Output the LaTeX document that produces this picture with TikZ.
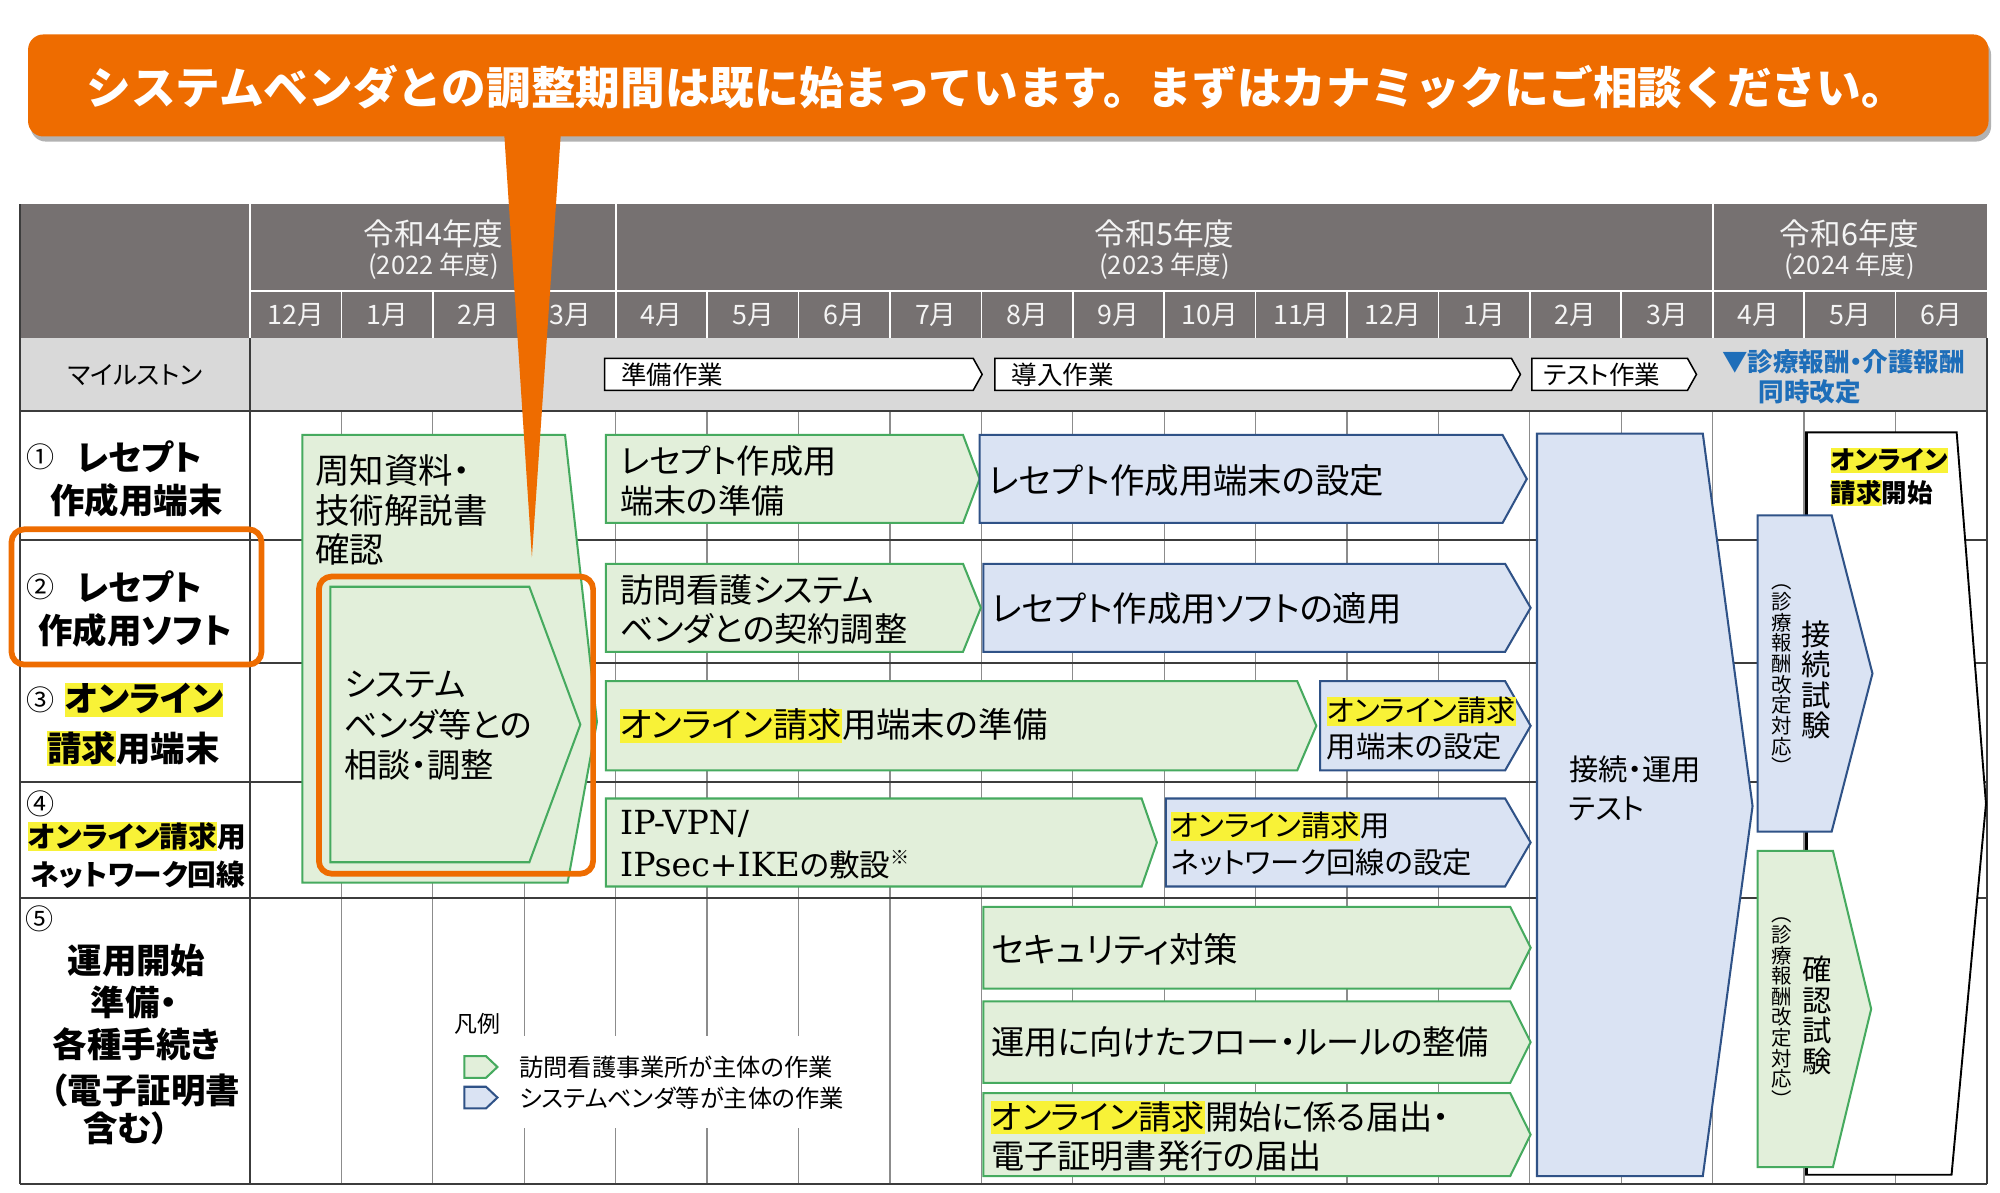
\documentclass[tikz,border=0pt]{standalone}
\usepackage{fontspec}
\setmainfont{Noto Sans CJK JP}[RawFeature=+palt]
\newfontfamily\bannerfont{Noto Sans CJK JP}
\newfontfamily\latserif{DejaVu Serif}
\usetikzlibrary{shadows}
\definecolor{orng}{RGB}{238,108,0}
\definecolor{hdr}{RGB}{118,113,113}
\definecolor{hdrtxt}{RGB}{244,244,244}
\definecolor{msg}{RGB}{217,217,217}
\definecolor{gridc}{RGB}{140,140,140}
\definecolor{rowc}{RGB}{60,60,60}
\definecolor{gfill}{RGB}{226,239,218}
\definecolor{gline}{RGB}{70,170,95}
\definecolor{bfill}{RGB}{218,227,243}
\definecolor{bline}{RGB}{47,82,135}
\definecolor{hly}{RGB}{248,242,55}
\definecolor{mblue}{RGB}{30,110,185}
\newcommand\hlt[1]{{\setlength{\fboxsep}{0pt}\colorbox{hly}{\rule[-0.15em]{0pt}{0.98em}#1}}}
\newcommand\fsz[2]{\fontsize{#1}{#2}\selectfont}
\newcommand\chevshape[6]{\draw[#1] (#2,#3) -- (#4,#3) -- (#5,{(#3+#6)/2}) -- (#4,#6) -- (#2,#6) -- cycle;}
\begin{document}
\begin{tikzpicture}[x=1pt,y=-1pt,
  greenbox/.style={fill=gfill,draw=gline,line width=1.6pt},
  bluebox/.style={fill=bfill,draw=bline,line width=1.6pt},
  msbox/.style={fill=white,draw=black,line width=1.2pt},
  tl/.style={inner sep=0pt,anchor=west,align=left,text=black},
  tc/.style={inner sep=0pt,anchor=center,align=center,text=black},
  hdt/.style={inner sep=0pt,anchor=center,text=hdrtxt},
]
\useasboundingbox (0,0) rectangle (1568,935);
\fill[white] (0,0) rectangle (1568,935);

% ---------- header ----------
\fill[hdr] (16,160) rectangle (1558,265);
\draw[white,line width=1.4pt] (196,160) -- (196,265);
\draw[white,line width=1.4pt] (196,228) -- (1558,228);
\draw[white,line width=1.4pt] (483,160) -- (483,265);
\draw[white,line width=1.4pt] (1343,160) -- (1343,265);
\foreach \k in {1,...,18} \draw[white,line width=1.2pt] ({196+71.67*\k},228) -- ({196+71.67*\k},265);
\foreach \m [count=\i from 0] in {12,1,2,3,4,5,6,7,8,9,10,11,12,1,2,3,4,5,6}
  \node[hdt,font=\fsz{21}{21}] (mon\i) at ({232+71.67*\i},247) {\m 月};
\node[hdt,font=\fsz{24}{24}] (y4) at (340,183) {令和4年度};
\node[hdt,font=\fsz{20}{20}] (y4b) at (340,209) {(2022 年度)};
\node[hdt,font=\fsz{24}{24}] (y5) at (913,183) {令和5年度};
\node[hdt,font=\fsz{20}{20}] (y5b) at (913,209) {(2023 年度)};
\node[hdt,font=\fsz{24}{24}] (y6) at (1450,183) {令和6年度};
\node[hdt,font=\fsz{20}{20}] (y6b) at (1450,209) {(2024 年度)};

% ---------- milestone row ----------
\fill[msg] (16,265) rectangle (1558,322);
\node[tc,font=\fsz{20}{20}] (ms) at (106,294) {マイルストン};
\draw[msbox] (474,281) -- (763,281) -- (770,293.5) -- (763,306) -- (474,306) -- cycle;
\node[tl,font=\fsz{20}{20}] (ms1) at (487,293.5) {準備作業};
\draw[msbox] (780,281) -- (1185,281) -- (1192,293.5) -- (1185,306) -- (780,306) -- cycle;
\node[tl,font=\fsz{20}{20}] (ms2) at (793,293.5) {導入作業};
\draw[msbox] (1201,281) -- (1323,281) -- (1330,293.5) -- (1323,306) -- (1201,306) -- cycle;
\node[tl,font=\fsz{20}{20}] (ms3) at (1210,293.5) {テスト作業};
\node[tl,font=\bfseries\fsz{20}{20},text=mblue] (kai1) at (1350,284) {▼診療報酬・介護報酬};
\node[tc,font=\bfseries\fsz{20}{20},text=mblue] (kai2) at (1419,307) {同時改定};

% ---------- body grid ----------
\foreach \k in {1,...,18} \draw[gridc,line width=1pt] ({196+71.67*\k},322) -- ({196+71.67*\k},928);
\foreach \yy in {322,423,520,613,704} \draw[rowc,line width=1.6pt] (16,\yy) -- (1558,\yy);
\draw[rowc,line width=1.6pt] (16,928) -- (1558,928);
\draw[rowc,line width=1.6pt] (16,160) -- (16,928);
\draw[rowc,line width=1.6pt] (1558,265) -- (1558,928);
\draw[rowc,line width=1.6pt] (196,265) -- (196,928);

% ---------- row labels ----------
\node[tc,font=\fsz{22}{22}] (c1) at (32,358) {①};
\node[tl,font=\bfseries\fsz{27}{27}] (l1a) at (60,358) {レセプト};
\node[tc,font=\bfseries\fsz{27}{27}] (l1b) at (107,392) {作成用端末};
\node[tc,font=\fsz{22}{22}] (c2) at (32,460) {②};
\node[tl,font=\bfseries\fsz{27}{27}] (l2a) at (60,460) {レセプト};
\node[tc,font=\bfseries\fsz{27}{27}] (l2b) at (106,494) {作成用ソフト};
\node[tc,font=\fsz{22}{22}] (c3) at (32,549) {③};
\node[tl,font=\bfseries\fsz{27}{27}] (l3a) at (51,549) {\hlt{オンライン}};
\node[tl,font=\bfseries\fsz{27}{27}] (l3b) at (37,587) {\hlt{請求}用端末};
\node[tc,font=\fsz{22}{22}] (c4) at (32,630) {④};
\node[tl,font=\bfseries\fsz{22.5}{22.5}] (l4a) at (22,656) {\hlt{オンライン請求}用};
\node[tl,font=\bfseries\fsz{22.5}{22.5}] (l4b) at (24,686) {ネットワーク回線};
\node[tc,font=\fsz{22}{22}] (c5) at (31,720) {⑤};
\node[tc,font=\bfseries\fsz{27}{27}] (l5a) at (107,753) {運用開始};
\node[tc,font=\bfseries\fsz{27}{27}] (l5b) at (105,786) {準備・};
\node[tc,font=\bfseries\fsz{27}{27}] (l5c) at (107,819) {各種手続き};
\node[tc,font=\bfseries\fsz{27}{27}] (l5d) at (114,855) {（電子証明書};
\node[tc,font=\bfseries\fsz{27}{27}] (l5e) at (99,885) {含む）};

% ---------- left big shapes ----------
\draw[greenbox] (237,341) -- (443,341) -- (468,566) -- (445,692) -- (237,692) -- cycle;
\node[tl,font=\fsz{27}{31}] (shuchi) at (247,400) {周知資料・\\技術解説書\\確認};
\chevshape{greenbox}{259}{460}{415}{455}{676}
\node[tl,font=\fsz{26}{32}] (sodan) at (270,569) {システム\\ベンダ等との\\相談・調整};

% ---------- rows 1-4 ----------
\chevshape{greenbox}{475}{341}{755}{768}{410}
\node[tl,font=\fsz{26}{31}] (r1g) at (486,377) {レセプト作成用\\端末の準備};
\chevshape{bluebox}{768}{341}{1178}{1197}{410}
\node[tl,font=\fsz{27}{27}] (r1b) at (775,377) {レセプト作成用端末の設定};
\chevshape{greenbox}{475}{442}{755}{769}{511}
\node[tl,font=\fsz{26}{31}] (r2g) at (486,478) {訪問看護システム\\ベンダとの契約調整};
\chevshape{bluebox}{771}{442}{1180}{1200}{511}
\node[tl,font=\fsz{27}{27}] (r2b) at (777,477) {レセプト作成用ソフトの適用};
\chevshape{greenbox}{475}{534}{1017}{1032}{604}
\node[tl,font=\fsz{27}{27}] (r3g) at (486,569) {\hlt{オンライン請求}用端末の準備};
\chevshape{bluebox}{1035}{534}{1180}{1200}{604}
\node[tl,font=\fsz{23}{28}] (r3b) at (1040,571) {\hlt{オンライン請求}\\用端末の設定};
\chevshape{greenbox}{475}{626}{895}{907}{695}
\node[tl,font=\fsz{24}{33}] (r4g) at (486,662) {{\latserif\fsz{26}{33}IP-VPN/}\\{\latserif\fsz{26}{33}IPsec+IKE}の敷設{\fsz{15}{15}\raisebox{0.6em}{※}}};
\chevshape{bluebox}{914}{626}{1180}{1200}{695}
\node[tl,font=\fsz{23}{29}] (r4b) at (918,662) {\hlt{オンライン請求}用\\ネットワーク回線の設定};

% ---------- row 5 ----------
\chevshape{greenbox}{771}{711}{1184}{1200}{775}
\node[tl,font=\fsz{27}{27}] (r5a) at (777,744) {セキュリティ対策};
\chevshape{greenbox}{771}{785}{1184}{1200}{849}
\node[tl,font=\fsz{26}{26}] (r5b) at (777,817) {運用に向けたフロー・ルールの整備};
\chevshape{greenbox}{771}{857}{1184}{1200}{922}
\node[tl,font=\fsz{26}{31}] (r5c) at (777,891) {\hlt{オンライン請求}開始に係る届出・\\電子証明書発行の届出};

% ---------- right shapes ----------
\draw[bluebox] (1205,340) -- (1335,340) -- (1374,632) -- (1335,922) -- (1205,922) -- cycle;
\node[tl,font=\fsz{23}{30}] (test) at (1230,618) {接続・運用\\テスト};
\draw[black,line width=1.5pt,fill=white] (1416,339) -- (1534,339) -- (1557,630) -- (1530,921) -- (1416,921) -- cycle;
\draw[black,line width=2.4pt] (1416,339) -- (1416,921);
\node[tl,font=\bfseries\fsz{20}{26}] (start) at (1435,374) {\hlt{オンライン}\\\hlt{請求}開始};
\chevshape{bluebox}{1378}{404}{1436}{1468}{652}
\node[tc,font=\fsz{23}{24}] (setsu) at (1424,533) {接\\続\\試\\験};
\node[tc,font=\fsz{16}{16.2}] (kaitei1) at (1397,533) {︵\\診\\療\\報\\酬\\改\\定\\対\\応\\︶};
\chevshape{greenbox}{1378}{667}{1437}{1467}{915}
\node[tc,font=\fsz{23}{24}] (kakunin) at (1425,796) {確\\認\\試\\験};
\node[tc,font=\fsz{16}{16.2}] (kaitei2) at (1397,794) {︵\\診\\療\\報\\酬\\改\\定\\対\\応\\︶};

% ---------- legend ----------
\fill[white] (350,812) rectangle (672,884);
\node[tl,font=\fsz{18}{18}] (hanrei) at (356,803) {凡例};
\chevshape{greenbox}{364}{828}{381}{390}{845}
\chevshape{bluebox}{364}{852}{381}{390}{869}
\node[tl,font=\fsz{19}{19}] (lg1) at (407,837) {訪問看護事業所が主体の作業};
\node[tl,font=\fsz{19}{19}] (lg2) at (407,861) {システムベンダ等が主体の作業};

% ---------- orange frames ----------
\draw[orng,line width=4.5pt,rounded corners=10pt] (9,415) rectangle (205,521);
\draw[orng,line width=4.5pt,rounded corners=10pt] (250,452) rectangle (465,685);

% ---------- banner ----------
\path[fill=orng,rounded corners=12pt,drop shadow={shadow xshift=2pt,shadow yshift=-4pt,opacity=0.3,fill=black}] (22,27) rectangle (1559,107);
\fill[orng] (395,100) -- (440,100) -- (417,437) -- cycle;
\node[inner sep=0pt,text=white,font=\bannerfont\bfseries\fsz{35}{35}] (banner) at (781,68) {システムベンダとの調整期間は既に始まっています。まずはカナミックにご相談ください。};
\end{tikzpicture}
\end{document}
